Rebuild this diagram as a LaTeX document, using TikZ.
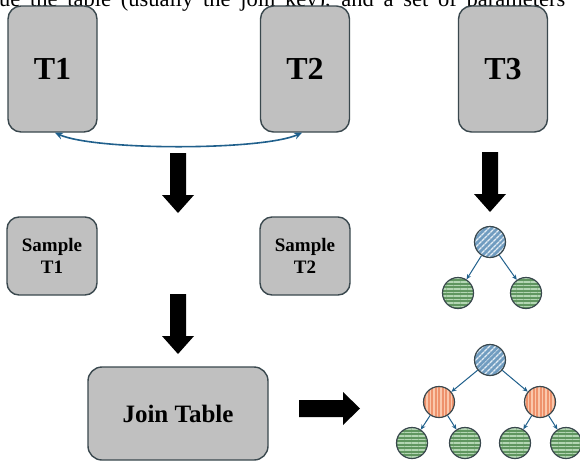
\documentclass[tikz,border=0pt]{standalone}
\usepackage{fontspec}
\setmainfont{Liberation Serif}
\usetikzlibrary{arrows.meta,patterns.meta}
\definecolor{boxfill}{RGB}{192,192,192}
\definecolor{boxline}{RGB}{58,72,78}
\definecolor{linkblue}{RGB}{32,96,140}
\definecolor{rootblue}{RGB}{112,156,192}
\definecolor{rootstripe}{RGB}{226,236,244}
\definecolor{midorange}{RGB}{238,146,108}
\definecolor{midstripe}{RGB}{250,200,172}
\definecolor{leafgreen}{RGB}{96,150,96}
\definecolor{leafstripe}{RGB}{180,214,180}

\begin{document}
\begin{tikzpicture}[x=1pt,y=-1pt,
  tablebox/.style={draw=boxline,line width=1.4pt,fill=boxfill,rounded corners=13pt,
    align=center,font=\bfseries,inner sep=0pt},
  bigT/.style={tablebox,minimum width=89pt,minimum height=126pt,
    font=\bfseries\fontsize{32}{32}\selectfont},
  samplebox/.style={tablebox,minimum width=90pt,minimum height=78pt,rounded corners=12pt,
    font=\bfseries\fontsize{19}{22}\selectfont},
  joinbox/.style={tablebox,minimum width=180pt,minimum height=93pt,rounded corners=14pt,
    font=\bfseries\fontsize{25}{25}\selectfont},
  treenode/.style={circle,draw=boxline,line width=1.2pt,minimum size=31pt,inner sep=0pt},
  rootnode/.style={treenode,preaction={fill=rootblue},
    pattern={Lines[angle=45,distance=4pt,line width=1.6pt]},pattern color=rootstripe},
  midnode/.style={treenode,preaction={fill=midorange},
    pattern={Lines[angle=90,distance=3.5pt,line width=1.2pt]},pattern color=midstripe},
  leafnode/.style={treenode,preaction={fill=leafgreen},
    pattern={Lines[angle=0,distance=3.5pt,line width=1.3pt]},pattern color=leafstripe},
  treelink/.style={draw=linkblue,line width=1pt,-{Stealth[length=5pt,width=4.5pt]}},
  bigdown/.pic={\fill[black] (-8,0) -- (8,0) -- (8,42) -- (16,42) -- (0,60)
    -- (-16,42) -- (-8,42) -- cycle;},
  bigright/.pic={\fill[black] (0,-8.5) -- (44,-8.5) -- (44,-16.5) -- (61,0)
    -- (44,16.5) -- (44,8.5) -- (0,8.5) -- cycle;}
]
\clip (0,0) rectangle (580,464);
\fill[white] (0,0) rectangle (580,464);

% justified running text line above the figure, cut by the frame
\node[anchor=base west,inner sep=0pt,font=\fontsize{22.5}{22.5}\selectfont] (textline) at (-1,6)
  {\makebox[566pt][s]{ue the table (usually the join key), and a set of parameters}};

% source tables
\node[bigT] (T1) at (52.5,69) {T1};
\node[bigT] (T2) at (305,69) {T2};
\node[bigT] (T3) at (503,69) {T3};

% join relation between T1 and T2
\draw[linkblue,line width=1.6pt,{Stealth[length=8pt,width=7pt]}-{Stealth[length=8pt,width=7pt]}]
  ([xshift=2.5pt]T1.south) .. controls +(40,18) and +(-40,18) .. ([xshift=-3pt]T2.south);

% samples
\node[samplebox] (S1) at (52,256) {Sample\\T1};
\node[samplebox] (S2) at (305,256) {Sample\\T2};

% joined table
\node[joinbox] (J) at (178,413.5) {Join Table};

% block arrows
\pic at (178,153) {bigdown};
\pic at (490,152) {bigdown};
\pic at (178,294) {bigdown};
\pic at (299,408.5) {bigright};

% small tree for T3
\node[rootnode] (a0) at (490,242) {};
\node[leafnode] (a1) at (458,293) {};
\node[leafnode] (a2) at (526,293) {};
\draw[treelink] (a0) -- (a1);
\draw[treelink] (a0) -- (a2);

% deeper tree for the joined table
\node[rootnode] (b0) at (490,360) {};
\node[midnode] (b1) at (439,402) {};
\node[midnode] (b2) at (540,402) {};
\node[leafnode] (b3) at (412,443) {};
\node[leafnode] (b4) at (465,443) {};
\node[leafnode] (b5) at (515,443) {};
\node[leafnode] (b6) at (566,443) {};
\draw[treelink] (b0) -- (b1);
\draw[treelink] (b0) -- (b2);
\draw[treelink] (b1) -- (b3);
\draw[treelink] (b1) -- (b4);
\draw[treelink] (b2) -- (b5);
\draw[treelink] (b2) -- (b6);
\end{tikzpicture}
\end{document}
